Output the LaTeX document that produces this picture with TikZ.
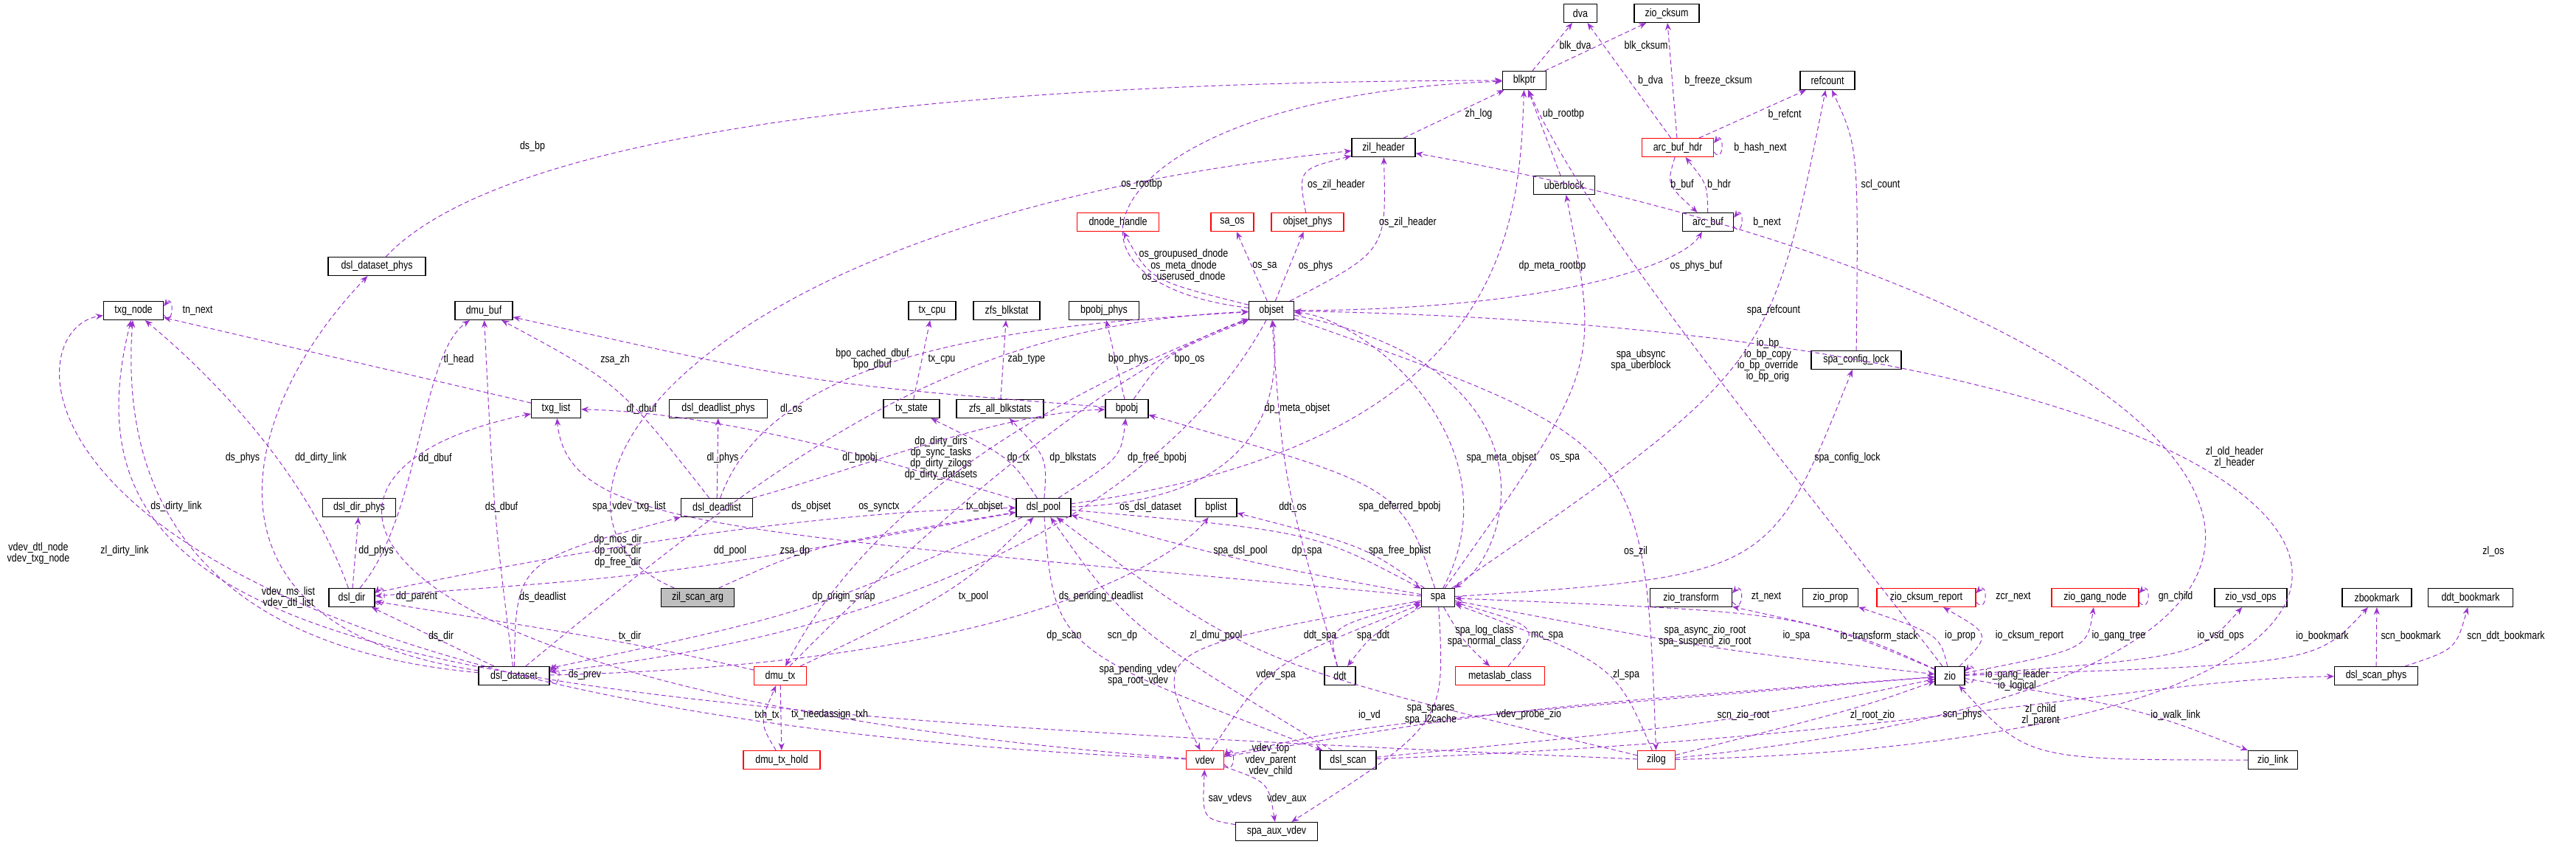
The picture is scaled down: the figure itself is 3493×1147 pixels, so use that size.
\documentclass[tikz,border=0pt]{standalone}
\usepackage{fontspec}
\setmainfont[FakeStretch=0.82]{Liberation Sans}
\usetikzlibrary{arrows.meta}
\definecolor{ec}{HTML}{9A32CD}
\begin{document}
\begin{tikzpicture}[x=0.5pt,y=-0.5pt,
 font=\fontsize{7.6}{8.4}\selectfont,
 box/.style={draw=black,line width=0.6pt,fill=white,minimum height=12.5pt,inner sep=1pt},
 rbox/.style={box,draw=red},
 e/.style={draw=ec,dash pattern=on 3pt off 2pt,line width=0.5pt,-{Stealth[length=5pt,width=4pt]}},
 lab/.style={inner sep=0pt,align=center,font=\fontsize{7.6}{7.6}\selectfont}]
\useasboundingbox (0,0) rectangle (3493,1147);
% nodes
\node[box,minimum width=40.5pt] (txgnode) at (181,421) {txg\_node};
\node[box,minimum width=66pt] (dsphys) at (511,361) {dsl\_dataset\_phys};
\node[box,minimum width=39pt] (dmubuf) at (656,421) {dmu\_buf};
\node[box,minimum width=33.5pt] (txglist) at (754,554) {txg\_list};
\node[box,minimum width=66.5pt] (dlphys) at (974,554) {dsl\_deadlist\_phys};
\node[box,minimum width=49.5pt] (ddphys) at (487,688) {dsl\_dir\_phys};
\node[box,minimum width=31pt] (dsldir) at (477,810) {dsl\_dir};
\node[box,minimum width=48.5pt] (deadlist) at (972,688) {dsl\_deadlist};
\node[box,fill=black!25,minimum width=49.5pt] (zsa) at (946,810) {zil\_scan\_arg};
\node[box,minimum width=48pt] (ds) at (697,916) {dsl\_dataset};
\node[box,minimum width=43pt] (zilh) at (1876,200) {zil\_header};
\node[rbox,minimum width=55.5pt] (dnh) at (1516,301) {dnode\_handle};
\node[rbox,minimum width=29pt] (saos) at (1671,301) {sa\_os};
\node[rbox,minimum width=49pt] (osphys) at (1773,301) {objset\_phys};
\node[box,minimum width=32pt] (txcpu) at (1264,421) {tx\_cpu};
\node[box,minimum width=45pt] (blkstat) at (1365,421) {zfs\_blkstat};
\node[box,minimum width=47.5pt] (bpophys) at (1497,421) {bpobj\_phys};
\node[box,minimum width=30.5pt] (objset) at (1724,421) {objset};
\node[box,minimum width=38pt] (txstate) at (1236,554) {tx\_state};
\node[box,minimum width=59pt] (allblk) at (1356,554) {zfs\_all\_blkstats};
\node[box,minimum width=29pt] (bpobj) at (1528,554) {bpobj};
\node[box,minimum width=37pt] (dp) at (1415,688) {dsl\_pool};
\node[box,minimum width=28pt] (bplist) at (1649,688) {bplist};
\node[box,minimum width=22.5pt] (spa) at (1950,810) {spa};
\node[rbox,minimum width=35.5pt] (dmutx) at (1058,916) {dmu\_tx};
\node[box,minimum width=21pt] (ddt) at (1817,916) {ddt};
\node[rbox,minimum width=60.5pt] (mc) at (2034,916) {metaslab\_class};
\node[rbox,minimum width=52pt] (txh) at (1060,1030) {dmu\_tx\_hold};
\node[rbox,minimum width=25.5pt] (vdev) at (1634,1030) {vdev};
\node[box,minimum width=38pt] (scan) at (1828,1030) {dsl\_scan};
\node[box,minimum width=55.5pt] (aux) at (1731,1127) {spa\_aux\_vdev};
\node[box,minimum width=22.5pt] (dva) at (2143,18) {dva};
\node[box,minimum width=44pt] (zck) at (2260,18) {zio\_cksum};
\node[box,minimum width=29.5pt] (blkptr) at (2067,109) {blkptr};
\node[box,minimum width=37pt] (refc) at (2478,109) {refcount};
\node[rbox,minimum width=48.5pt] (hdr) at (2275,200) {arc\_buf\_hdr};
\node[box,minimum width=41.5pt] (ub) at (2121,251) {uberblock};
\node[box,minimum width=34.5pt] (arcbuf) at (2316,301) {arc\_buf};
\node[box,minimum width=61pt] (scl) at (2517,488) {spa\_config\_lock};
\node[box,minimum width=55.5pt] (ztr) at (2293,810) {zio\_transform};
\node[box,minimum width=37.5pt] (zprop) at (2482,810) {zio\_prop};
\node[rbox,minimum width=67pt] (zcr) at (2612,810) {zio\_cksum\_report};
\node[rbox,minimum width=59pt] (zgn) at (2841,810) {zio\_gang\_node};
\node[box,minimum width=49pt] (zvsd) at (3052,810) {zio\_vsd\_ops};
\node[box,minimum width=47pt] (zbm) at (3223,810) {zbookmark};
\node[box,minimum width=57.5pt] (ddtbm) at (3350,810) {ddt\_bookmark};
\node[box,minimum width=20pt] (zio) at (2644,916) {zio};
\node[box,minimum width=56.5pt] (scnphys) at (3222,916) {dsl\_scan\_phys};
\node[rbox,minimum width=25.5pt] (zilog) at (2246,1030) {zilog};
\node[box,minimum width=33.5pt] (zlink) at (3082,1030) {zio\_link};
% edges
\draw[e] (dsphys) .. controls (700,160) and (1400,110) .. (blkptr.west);
\node[lab] at (722,199) {ds\_bp};
\draw[e] (ds) .. controls (250,850) and (320,560) .. (dsphys);
\node[lab] at (329,621) {ds\_phys};
\draw[e] ([yshift=-3pt]txgnode.east) .. controls +(14,18) and +(14,-18) .. ([yshift=3pt]txgnode.east);
\node[lab] at (268,421) {tn\_next};
\draw[e] (txglist) -- (txgnode);
\node[lab] at (622,487) {tl\_head};
\draw[e] (dsldir) .. controls (420,650) and (300,520) .. (txgnode);
\node[lab] at (435,621) {dd\_dirty\_link};
\draw[e] (ds) .. controls (300,880) and (160,700) .. (txgnode);
\node[lab] at (239,687) {ds\_dirty\_link};
\draw[e] (zilog) .. controls (600,960) and (60,900) .. (txgnode);
\node[lab] at (169,747) {zl\_dirty\_link};
\draw[e] (vdev) .. controls (0,960) and (0,450) .. (txgnode);
\node[lab] at (52,750) {vdev\_dtl\_node\\vdev\_txg\_node};
\draw[e] (vdev) .. controls (450,940) and (330,640) .. (txglist);
\node[lab] at (391,810) {vdev\_ms\_list\\vdev\_dtl\_list};
\draw[e] (spa) .. controls (1000,720) and (770,720) .. (txglist);
\node[lab] at (853,687) {spa\_vdev\_txg\_list};
\draw[e] (dp) .. controls (1250,640) and (1000,560) .. (txglist);
\node[lab] at (1276,621) {dp\_dirty\_dirs\\dp\_sync\_tasks\\dp\_dirty\_zilogs\\dp\_dirty\_datasets};
\draw[e] (dsldir) .. controls (570,700) and (570,480) .. (dmubuf);
\node[lab] at (590,621) {dd\_dbuf};
\draw[e] (ds) .. controls (670,700) .. (dmubuf);
\node[lab] at (680,687) {ds\_dbuf};
\draw[e] (deadlist) .. controls (840,520) .. (dmubuf);
\node[lab] at (870,554) {dl\_dbuf};
\draw[e] (bpobj) .. controls (1100,520) .. (dmubuf);
\node[lab] at (1183,487) {bpo\_cached\_dbuf\\bpo\_dbuf};
\draw[e] (zsa) .. controls (680,700) and (900,300) .. (zilh);
\node[lab] at (834,487) {zsa\_zh};
\draw[e] ([yshift=-3pt]dsldir.east) .. controls +(16,18) and +(16,-18) .. ([yshift=3pt]dsldir.east);
\node[lab] at (565,809) {dd\_parent};
\draw[e] (dsldir) -- (ddphys);
\node[lab] at (510,747) {dd\_phys};
\draw[e] (ds) -- (dsldir);
\node[lab] at (598,862) {ds\_dir};
\draw[e] (dmutx) .. controls (850,870) .. (dsldir);
\node[lab] at (854,862) {tx\_dir};
\draw[e] (dp) .. controls (900,780) .. (dsldir);
\node[lab] at (838,747) {dp\_mos\_dir\\dp\_root\_dir\\dp\_free\_dir};
\draw[e] ([yshift=-3pt]ds.east) .. controls +(16,18) and +(16,-18) .. ([yshift=3pt]ds.east);
\node[lab] at (793,915) {ds\_prev};
\draw[e] (ds) .. controls (700,760) .. (deadlist);
\node[lab] at (736,809) {ds\_deadlist};
\draw[e] (deadlist) -- (dlphys);
\node[lab] at (980,621) {dl\_phys};
\draw[e] (dsldir) .. controls (900,720) and (1200,690) .. (dp);
\node[lab] at (990,747) {dd\_pool};
\draw[e] (zsa) .. controls (1100,740) .. (dp);
\node[lab] at (1078,747) {zsa\_dp};
\draw[e] (dmutx) .. controls (1300,800) .. (dp);
\node[lab] at (1320,809) {tx\_pool};
\draw[e] (dp) .. controls (1100,830) .. (ds);
\node[lab] at (1144,809) {dp\_origin\_snap};
\draw[e] (objset) .. controls (1600,650) and (1300,850) .. (ds);
\node[lab] at (1560,687) {os\_dsl\_dataset};
\draw[e] (ds) .. controls (1080,600) and (1300,440) .. (objset);
\node[lab] at (1100,687) {ds\_objset};
\draw[e] (deadlist) .. controls (1050,470) and (1400,440) .. (objset);
\node[lab] at (1073,554) {dl\_os};
\draw[e] (deadlist) .. controls (1150,640) and (1350,560) .. (bpobj);
\node[lab] at (1166,621) {dl\_bpobj};
\draw[e] (txstate) -- (txcpu);
\node[lab] at (1277,487) {tx\_cpu};
\draw[e] (allblk) -- (blkstat);
\node[lab] at (1392,487) {zab\_type};
\draw[e] (bpobj) -- (bpophys);
\node[lab] at (1530,487) {bpo\_phys};
\draw[e] (bpobj) .. controls (1580,480) .. (objset);
\node[lab] at (1613,487) {bpo\_os};
\draw[e] (dp) .. controls (1700,680) and (1740,550) .. (objset);
\node[lab] at (1759,554) {dp\_meta\_objset};
\draw[e] (dp) .. controls (1370,620) .. (txstate);
\node[lab] at (1381,621) {dp\_tx};
\draw[e] (dp) .. controls (1420,620) .. (allblk);
\node[lab] at (1455,621) {dp\_blkstats};
\draw[e] (dp) .. controls (1520,620) .. (bpobj);
\node[lab] at (1569,621) {dp\_free\_bpobj};
\draw[e] (dmutx) .. controls (1250,720) and (1500,500) .. (objset);
\node[lab] at (1335,687) {tx\_objset};
\draw[e] (objset) .. controls (1250,600) and (1120,800) .. (dmutx);
\node[lab] at (1192,687) {os\_synctx};
\draw[e] (objset) .. controls (1560,380) .. (dnh);
\node[lab] at (1605,360) {os\_groupused\_dnode\\os\_meta\_dnode\\os\_userused\_dnode};
\draw[e] (objset) -- (saos);
\node[lab] at (1715,361) {os\_sa};
\draw[e] (objset) -- (osphys);
\node[lab] at (1784,361) {os\_phys};
\draw[e] (objset) .. controls (1880,340) .. (zilh);
\node[lab] at (1909,301) {os\_zil\_header};
\draw[e] (osphys) .. controls (1760,230) .. (zilh);
\node[lab] at (1812,250) {os\_zil\_header};
\draw[e] (objset) .. controls (1380,380) and (1500,130) .. (blkptr);
\node[lab] at (1548,250) {os\_rootbp};
\draw[e] (objset) .. controls (2100,420) and (2280,360) .. (arcbuf);
\node[lab] at (2300,361) {os\_phys\_buf};
\draw[e] (zilh) -- (blkptr);
\node[lab] at (2005,155) {zh\_log};
\draw[e] (ub) -- (blkptr);
\node[lab] at (2120,155) {ub\_rootbp};
\draw[e] (dp) .. controls (2050,600) and (2060,300) .. (blkptr);
\node[lab] at (2105,361) {dp\_meta\_rootbp};
\draw[e] (zio) .. controls (2400,600) and (2150,300) .. (blkptr);
\node[lab] at (2397,488) {io\_bp\\io\_bp\_copy\\io\_bp\_override\\io\_bp\_orig};
\draw[e] (blkptr) -- (dva);
\node[lab] at (2136,62) {blk\_dva};
\draw[e] (blkptr) -- (zck);
\node[lab] at (2232,62) {blk\_cksum};
\draw[e] (hdr) -- (dva);
\node[lab] at (2238,109) {b\_dva};
\draw[e] (hdr) -- (zck);
\node[lab] at (2330,109) {b\_freeze\_cksum};
\draw[e] (hdr) -- (refc);
\node[lab] at (2420,155) {b\_refcnt};
\draw[e] ([yshift=-3pt]hdr.east) .. controls +(14,18) and +(14,-18) .. ([yshift=3pt]hdr.east);
\node[lab] at (2387,200) {b\_hash\_next};
\draw[e] (hdr) .. controls (2260,250) .. (arcbuf);
\node[lab] at (2281,250) {b\_buf};
\draw[e] (arcbuf) .. controls (2315,250) .. (hdr);
\node[lab] at (2331,250) {b\_hdr};
\draw[e] ([yshift=-3pt]arcbuf.east) .. controls +(14,18) and +(14,-18) .. ([yshift=3pt]arcbuf.east);
\node[lab] at (2396,301) {b\_next};
\draw[e] (scl) .. controls (2520,200) .. (refc);
\node[lab] at (2550,250) {scl\_count};
\draw[e] (spa) .. controls (2400,500) .. (refc);
\node[lab] at (2405,421) {spa\_refcount};
\draw[e] (spa) .. controls (2170,500) .. (ub);
\node[lab] at (2225,488) {spa\_ubsync\\spa\_uberblock};
\draw[e] (spa) .. controls (2060,600) and (1850,430) .. (objset);
\node[lab] at (2036,621) {spa\_meta\_objset};
\draw[e] (objset) .. controls (2120,500) and (2050,750) .. (spa);
\node[lab] at (2122,621) {os\_spa};
\draw[e] (spa) .. controls (2400,780) .. (scl);
\node[lab] at (2505,621) {spa\_config\_lock};
\draw[e] (zilog) .. controls (3500,900) and (3000,400) .. (zilh);
\node[lab] at (3030,620) {zl\_old\_header\\zl\_header};
\draw[e] (zilog) .. controls (3550,1000) and (3350,450) .. (objset);
\node[lab] at (3381,747) {zl\_os};
\draw[e] (objset) .. controls (2230,600) .. (zilog);
\node[lab] at (2218,747) {os\_zil};
\draw[e] (spa) .. controls (1900,660) .. (bpobj);
\node[lab] at (1898,687) {spa\_deferred\_bpobj};
\draw[e] (spa) .. controls (1850,740) .. (bplist);
\node[lab] at (1898,747) {spa\_free\_bplist};
\draw[e] (ds) .. controls (1400,900) and (1600,750) .. (bplist);
\node[lab] at (1493,809) {ds\_pending\_deadlist};
\draw[e] (spa) .. controls (1680,760) .. (dp);
\node[lab] at (1682,747) {spa\_dsl\_pool};
\draw[e] (dp) .. controls (1780,720) .. (spa);
\node[lab] at (1772,747) {dp\_spa};
\draw[e] (ddt) .. controls (1740,650) .. (objset);
\node[lab] at (1753,687) {ddt\_os};
\draw[e] (ddt) .. controls (1800,850) .. (spa);
\node[lab] at (1790,862) {ddt\_spa};
\draw[e] (spa) .. controls (1860,860) .. (ddt);
\node[lab] at (1862,862) {spa\_ddt};
\draw[e] (spa) .. controls (1985,870) .. (mc);
\node[lab] at (2013,862) {spa\_log\_class\\spa\_normal\_class};
\draw[e] (mc) .. controls (2090,850) .. (spa);
\node[lab] at (2098,862) {mc\_spa};
\draw[e] (dp) .. controls (1430,880) .. (scan);
\node[lab] at (1443,862) {dp\_scan};
\draw[e] (scan) .. controls (1530,850) .. (dp);
\node[lab] at (1522,862) {scn\_dp};
\draw[e] (zilog) .. controls (1700,900) .. (dp);
\node[lab] at (1649,862) {zl\_dmu\_pool};
\draw[e] (spa) .. controls (1560,880) .. (vdev);
\node[lab] at (1543,915) {spa\_pending\_vdev\\spa\_root\_vdev};
\draw[e] (vdev) .. controls (1720,900) .. (spa);
\node[lab] at (1730,915) {vdev\_spa};
\draw[e] (zio) .. controls (1860,980) .. (vdev);
\node[lab] at (1857,969) {io\_vd};
\draw[e] (spa) .. controls (1960,980) .. (aux);
\node[lab] at (1940,969) {spa\_spares\\spa\_l2cache};
\draw[e] ([yshift=-3pt]vdev.east) .. controls +(16,18) and +(16,-18) .. ([yshift=3pt]vdev.east);
\node[lab] at (1723,1030) {vdev\_top\\vdev\_parent\\vdev\_child};
\draw[e] (aux) .. controls (1630,1110) .. (vdev);
\node[lab] at (1668,1082) {sav\_vdevs};
\draw[e] (vdev) .. controls (1720,1060) .. (aux);
\node[lab] at (1745,1082) {vdev\_aux};
\draw[e] (dmutx) -- (txh);
\node[lab] at (1125,969) {tx\_needassign\_txh};
\draw[e] (txh) .. controls (1030,980) .. (dmutx);
\node[lab] at (1040,969) {txh\_tx};
\draw[e] (spa) .. controls (2320,880) .. (zio);
\node[lab] at (2312,862) {spa\_async\_zio\_root\\spa\_suspend\_zio\_root};
\draw[e] (zio) .. controls (2440,830) .. (spa);
\node[lab] at (2436,862) {io\_spa};
\draw[e] (zilog) .. controls (2190,900) .. (spa);
\node[lab] at (2205,915) {zl\_spa};
\draw[e] (vdev) .. controls (2050,960) .. (zio);
\node[lab] at (2073,969) {vdev\_probe\_zio};
\draw[e] (scan) .. controls (2340,980) .. (zio);
\node[lab] at (2364,969) {scn\_zio\_root};
\draw[e] (zilog) .. controls (2520,960) .. (zio);
\node[lab] at (2539,969) {zl\_root\_zio};
\draw[e] (scan) .. controls (2600,1000) and (2900,920) .. (scnphys);
\node[lab] at (2661,969) {scn\_phys};
\draw[e] (zlink) .. controls (2750,1030) .. (zio);
\node[lab] at (2767,969) {zl\_child\\zl\_parent};
\draw[e] (zio) .. controls (2900,960) .. (zlink);
\node[lab] at (2950,969) {io\_walk\_link};
\draw[e] ([yshift=-3pt]zio.east) .. controls +(16,18) and +(16,-18) .. ([yshift=3pt]zio.east);
\node[lab] at (2735,922) {io\_gang\_leader\\io\_logical};
\draw[e] (zio) .. controls (2520,860) .. (ztr);
\node[lab] at (2548,862) {io\_transform\_stack};
\draw[e] ([yshift=-3pt]ztr.east) .. controls +(16,18) and +(16,-18) .. ([yshift=3pt]ztr.east);
\node[lab] at (2395,809) {zt\_next};
\draw[e] (zio) .. controls (2630,860) .. (zprop);
\node[lab] at (2658,862) {io\_prop};
\draw[e] (zio) .. controls (2700,860) .. (zcr);
\node[lab] at (2752,862) {io\_cksum\_report};
\draw[e] ([yshift=-3pt]zcr.east) .. controls +(16,18) and +(16,-18) .. ([yshift=3pt]zcr.east);
\node[lab] at (2730,809) {zcr\_next};
\draw[e] (zio) .. controls (2830,880) .. (zgn);
\node[lab] at (2873,862) {io\_gang\_tree};
\draw[e] ([yshift=-3pt]zgn.east) .. controls +(16,18) and +(16,-18) .. ([yshift=3pt]zgn.east);
\node[lab] at (2950,809) {gn\_child};
\draw[e] (zio) .. controls (2980,890) .. (zvsd);
\node[lab] at (3011,862) {io\_vsd\_ops};
\draw[e] (zio) .. controls (3140,900) .. (zbm);
\node[lab] at (3149,862) {io\_bookmark};
\draw[e] (scnphys) -- (zbm);
\node[lab] at (3269,862) {scn\_bookmark};
\draw[e] (scnphys) .. controls (3330,880) .. (ddtbm);
\node[lab] at (3398,862) {scn\_ddt\_bookmark};
\end{tikzpicture}
\end{document}
